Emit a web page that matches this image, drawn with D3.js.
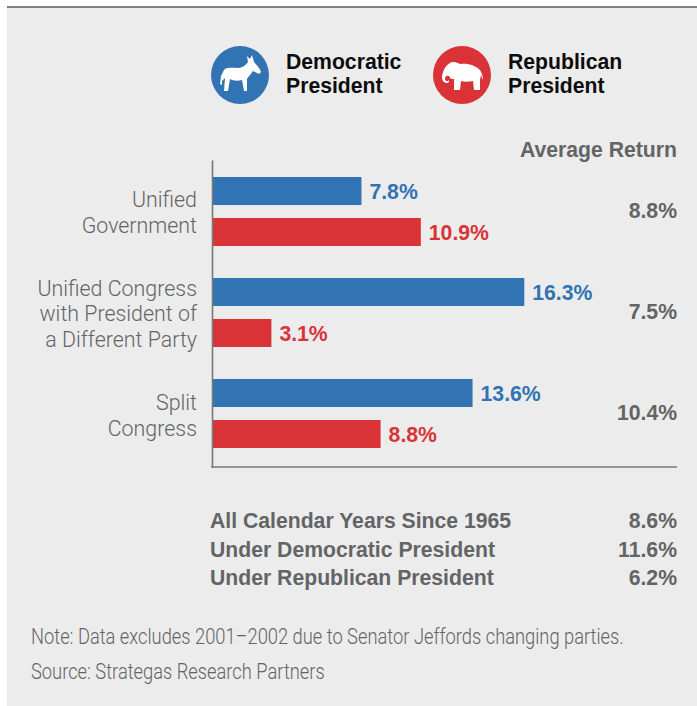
<!DOCTYPE html>
<html>
<head>
<meta charset="utf-8">
<script src="https://cdn.jsdelivr.net/npm/d3@7"></script>
<style>
html,body{margin:0;padding:0;background:#fff;}
svg{display:block;}
text{font-family:"Liberation Sans",sans-serif;}
.light{font-family:"Roboto","Liberation Sans",sans-serif;font-weight:300;}
</style>
</head>
<body>
<svg id="chart" width="697" height="706"></svg>
<script>
const groups = ["Unified Government", "Unified Congress", "Split Congress"];
const groupLabels = [
  ["Unified", "Government"],
  ["Unified Congress", "with President of", "a Different Party"],
  ["Split", "Congress"]
];
const parties = ["Democratic", "Republican"];
const democraticValues = [7.8, 16.3, 13.6];
const republicanValues = [10.9, 3.1, 8.8];
const averageReturns = ["8.8%", "7.5%", "10.4%"];
const summaryLabels = ["All Calendar Years Since 1965", "Under Democratic President", "Under Republican President"];
const summaryValues = ["8.6%", "11.6%", "6.2%"];
const noteLines = [
  "Note: Data excludes 2001\u20132002 due to Senator Jeffords changing parties.",
  "Source: Strategas Research Partners"
];

const BLUE = "#3173b3", RED = "#d93338", GREY = "#636466", DARK = "#0d0d0d", RULE = "#77787a";
const BOLD_SIZE = 21.2;
const svg = d3.select("#chart");

// Panel and top rule
svg.append("rect").attr("x", 7).attr("y", 7).attr("width", 690).attr("height", 699).attr("fill", "#ececec");
svg.append("rect").attr("x", 7).attr("y", 6).attr("width", 690).attr("height", 2).attr("fill", "#808080");

// Scales
const x = d3.scaleLinear().domain([0, 16.3]).range([212, 524.3]);
const yGroup = d3.scaleBand().domain(groups).range([177, 480]);
const yParty = d3.scaleBand().domain(parties).range([0, 69]).paddingInner(13 / 41).paddingOuter(0);

const colorOf = d3.scaleOrdinal().domain(parties).range([BLUE, RED]);
const rows = groups.flatMap((g, i) => [
  { group: g, party: parties[0], value: democraticValues[i] },
  { group: g, party: parties[1], value: republicanValues[i] }
]);

// Bars
svg.append("g").selectAll("rect").data(rows).join("rect")
  .attr("x", x(0))
  .attr("y", d => yGroup(d.group) + yParty(d.party))
  .attr("width", d => x(d.value) - x(0))
  .attr("height", yParty.bandwidth())
  .attr("fill", d => colorOf(d.party));

// Value labels
svg.append("g").selectAll("text").data(rows).join("text")
  .attr("x", d => x(d.value) + 8)
  .attr("y", d => yGroup(d.group) + yParty(d.party) + yParty.bandwidth() / 2 + 7.5)
  .attr("font-size", BOLD_SIZE).attr("font-weight", 700)
  .attr("fill", d => colorOf(d.party))
  .text(d => d.value.toFixed(1) + "%");

// Vertical baseline and bottom rule
const baseline = d3.axisLeft(d3.scaleLinear().domain([0, 1]).range([467, 160])).tickValues([]).tickSize(0);
const axisG = svg.append("g").attr("transform", "translate(212,0)").call(baseline);
axisG.select(".domain").attr("stroke", RULE).attr("stroke-width", 1.6);
svg.append("line").attr("x1", 211).attr("x2", 677).attr("y1", 467).attr("y2", 467)
  .attr("stroke", RULE).attr("stroke-width", 1.6);

// Category labels
groupLabels.forEach((lines, i) => {
  const mid = yGroup(groups[i]) + 35.5 + (i === 2 ? 1 : 0);
  const lh = 25.7;
  lines.forEach((line, j) => {
    svg.append("text").attr("class", "light").attr("x", 197).attr("text-anchor", "end")
      .attr("y", mid + (j - (lines.length - 1) / 2) * lh + 7.8)
      .attr("font-size", 21.4).attr("fill", GREY)
      .text(line);
  });
});

// Average return column
svg.append("text").attr("x", 677).attr("y", 157).attr("text-anchor", "end")
  .attr("font-size", BOLD_SIZE).attr("font-weight", 700).attr("fill", GREY).text("Average Return");
averageReturns.forEach((v, i) => {
  svg.append("text").attr("x", 677).attr("y", yGroup(groups[i]) + 41).attr("text-anchor", "end")
    .attr("font-size", BOLD_SIZE).attr("font-weight", 700).attr("fill", GREY).text(v);
});

// Summary rows
summaryLabels.forEach((label, i) => {
  const yy = 528 + i * 28.5;
  svg.append("text").attr("x", 210).attr("y", yy)
    .attr("font-size", BOLD_SIZE).attr("font-weight", 700).attr("fill", GREY).text(label);
  svg.append("text").attr("x", 677).attr("y", yy).attr("text-anchor", "end")
    .attr("font-size", BOLD_SIZE).attr("font-weight", 700).attr("fill", GREY).text(summaryValues[i]);
});

// Footnotes, horizontally condensed
noteLines.forEach((line, i) => {
  svg.append("text").attr("class", "light")
    .attr("transform", `translate(31,${644 + i * 35}) scale(0.915,1.07)`)
    .attr("font-size", 20).attr("fill", GREY)
    .text(line);
});

// Legend badges with party mascots
const donkey = "M-20 9 L-19 1 L-16 -5 C-14 -8 -8 -7 -2 -7 C2 -7 6 -10 8 -13 L7 -19 L10 -16 L12 -20 L14 -13 C17 -10 20 -6 21 -3 L19 -1 L13 -4 C11 -1 8 2 7 4 L7 16 L4 16 L2 5 C-2 6 -7 6 -10 4 L-12 16 L-16 16 L-15 3 L-18 6 L-18 10 Z";
const elephant = "M-20 2 C-19 -6 -15 -12 -9 -13 C-5 -13 -3 -11 -1 -11 C6 -12 14 -9 18 -5 C20 -2 21 2 21 5 L20 3 L19 0 L18 5 L18 15 L12 15 L11 6 C7 7 2 7 -1 6 L-2 15 L-8 15 L-8 4 L-11 4 L-13 1 C-15 0 -17 1 -17 4 C-17 6 -14 7 -13 5 L-13 7 C-15 9 -20 8 -20 2 Z";
const legend = [
  { cx: 240, label: ["Democratic", "President"], color: BLUE, icon: donkey, tx: 286 },
  { cx: 462, label: ["Republican", "President"], color: RED, icon: elephant, tx: 508 }
];
legend.forEach(d => {
  svg.append("circle").attr("cx", d.cx).attr("cy", 75).attr("r", 29).attr("fill", d.color);
  svg.append("path").attr("d", d.icon).attr("fill", "#fff").attr("transform", `translate(${d.cx},75)`);
  d.label.forEach((t, i) => {
    svg.append("text").attr("x", d.tx).attr("y", 69 + i * 24)
      .attr("font-size", BOLD_SIZE).attr("font-weight", 700).attr("fill", DARK).text(t);
  });
});
</script>
</body>
</html>
